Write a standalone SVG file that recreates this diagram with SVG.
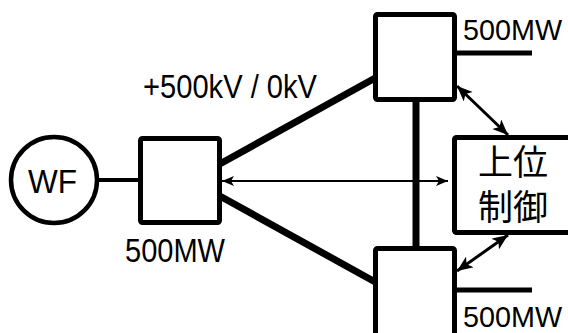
<svg xmlns="http://www.w3.org/2000/svg" width="568" height="333" viewBox="0 0 568 333">
<style>
.box{fill:#fff;stroke:#000;stroke-width:5;stroke-linejoin:round}
.ln{stroke:#000;fill:none}
.t{font-family:"Liberation Sans",Arial,sans-serif;font-size:33px;fill:#000}
.tr{font-size:30px}
.cjk{font-family:"Noto Sans CJK JP","Noto Sans CJK SC",sans-serif;font-size:35px;fill:#000;text-anchor:middle}
</style>
<defs>
<marker id="ah" viewBox="0 0 12 10" refX="12" refY="5" markerWidth="12" markerHeight="10" markerUnits="userSpaceOnUse" orient="auto-start-reverse">
<path d="M0,0 L12,5 L0,10 L3,5 z" fill="#000"/>
</marker>
<marker id="ah2" viewBox="0 0 12 10" refX="12" refY="5" markerWidth="16" markerHeight="13" markerUnits="userSpaceOnUse" orient="auto-start-reverse">
<path d="M0,0 L12,5 L0,10 L3,5 z" fill="#000"/>
</marker>
</defs>
<g id="connectors">
<line class="ln" x1="97" y1="180" x2="141" y2="180" stroke-width="4"/>
<line class="ln" x1="218" y1="165" x2="377" y2="77" stroke-width="7"/>
<line class="ln" x1="218" y1="195" x2="377" y2="283" stroke-width="7"/>
<line class="ln" x1="416" y1="98" x2="416" y2="250" stroke-width="7"/>
<line class="ln" x1="455" y1="53" x2="532" y2="53" stroke-width="5"/>
<line class="ln" x1="455" y1="290" x2="532" y2="290" stroke-width="5"/>
</g>
<g id="wf">
<circle cx="54" cy="180" r="43" fill="#fff" stroke="#000" stroke-width="4.5"/>
<text class="t" x="28" y="193" textLength="49" lengthAdjust="spacingAndGlyphs">WF</text>
</g>
<g id="conv-left">
<rect class="box" x="140.5" y="138.5" width="79" height="84" rx="2"/>
</g>
<g id="conv-top">
<rect class="box" x="375.5" y="14.5" width="79" height="85" rx="2"/>
</g>
<g id="conv-bottom">
<rect class="box" x="375.5" y="248.5" width="79" height="100" rx="2"/>
</g>
<g id="control">
<rect class="box" x="454.5" y="137.5" width="130" height="95" rx="2"/>
<text class="cjk"><tspan x="513" y="175">上位</tspan><tspan x="513" y="220">制御</tspan></text>
</g>
<g id="arrows">
<line class="ln" x1="222" y1="181" x2="448" y2="181" stroke-width="2" marker-start="url(#ah)" marker-end="url(#ah)"/>
<line class="ln" x1="457" y1="86" x2="508" y2="135" stroke-width="3" marker-start="url(#ah2)" marker-end="url(#ah2)"/>
<line class="ln" x1="508" y1="235" x2="457" y2="271" stroke-width="3" marker-start="url(#ah2)" marker-end="url(#ah2)"/>
</g>
<g id="labels">
<text class="t" x="143" y="98" textLength="174" lengthAdjust="spacingAndGlyphs">+500kV / 0kV</text>
<text class="t tr" x="463" y="40" textLength="99" lengthAdjust="spacingAndGlyphs">500MW</text>
<text class="t" x="125" y="262" textLength="100" lengthAdjust="spacingAndGlyphs">500MW</text>
<text class="t tr" x="463" y="327" textLength="99" lengthAdjust="spacingAndGlyphs">500MW</text>
</g>
</svg>
